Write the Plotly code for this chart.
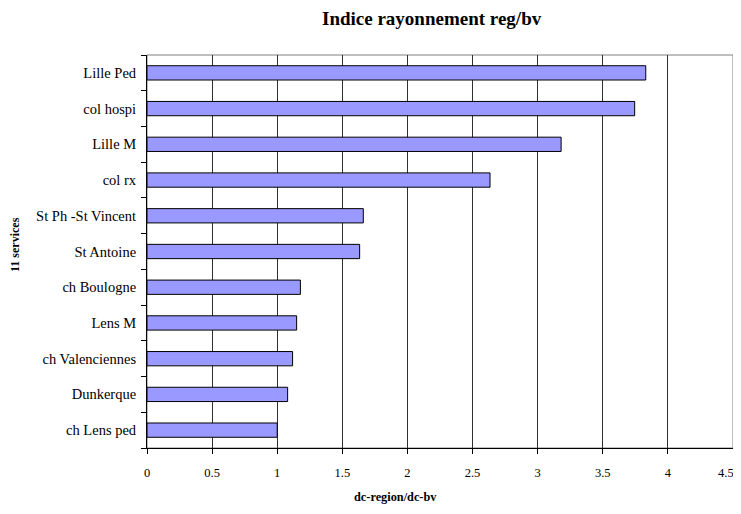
import plotly.graph_objects as go

categories = ["ch Lens ped", "Dunkerque", "ch Valenciennes", "Lens M", "ch Boulogne",
              "St Antoine", "St Ph -St Vincent", "col rx", "Lille M", "col hospi", "Lille Ped"]
values = [1.0, 1.08, 1.118, 1.149, 1.178, 1.633, 1.661, 2.634, 3.18, 3.745, 3.83]
x_ticks = [0, 0.5, 1, 1.5, 2, 2.5, 3, 3.5, 4, 4.5]
x_tick_labels = ["0", "0.5", "1", "1.5", "2", "2.5", "3", "3.5", "4", "4.5"]

font = "Liberation Serif, Times New Roman, serif"

fig = go.Figure(go.Bar(
    x=values, y=categories, orientation="h",
    marker=dict(color="#9999FF", line=dict(color="black", width=1)),
    width=0.4,
))

# the last tick label sits at the page edge; draw it as right-anchored text so it is not clipped
shown_tick_labels = x_tick_labels[:-1] + [""]

# page body has an 8px default margin, so the figure is drawn smaller to avoid scrollbars
fig.update_layout(
    width=733, height=498,
    margin=dict(l=139, r=8, t=47, b=58, autoexpand=False),
    paper_bgcolor="white", plot_bgcolor="white",
    showlegend=False,
    font=dict(family=font, size=12, color="black"),
    shapes=[dict(type="rect", xref="paper", yref="paper", x0=0, x1=1, y0=0, y1=1,
                 line=dict(color="#808080", width=1), layer="below")],
    annotations=[
        dict(text="<b>Indice rayonnement reg/bv</b>", xref="paper", yref="paper",
             x=(432 - 147) / 586, y=1 + (55 - 18) / 393, xanchor="center", yanchor="middle",
             showarrow=False, font=dict(family=font, size=19, color="black")),
        dict(text="<b>11 services</b>", xref="paper", yref="paper",
             x=-(147 - 15) / 586, y=(448 - 245) / 393, xanchor="center", yanchor="middle",
             textangle=-90, showarrow=False, font=dict(family=font, size=12, color="black")),
        dict(text="<b>dc-region/dc-bv</b>", xref="paper", yref="paper",
             x=(395 - 147) / 586, y=-(497 - 448) / 393, xanchor="center", yanchor="middle",
             showarrow=False, font=dict(family=font, size=12.3, color="black")),
        dict(text=x_tick_labels[-1], xref="x", yref="paper",
             x=x_ticks[-1], y=-(473 - 448) / 393, xanchor="right", yanchor="middle",
             xshift=2, showarrow=False, borderpad=0,
             font=dict(family=font, size=12.5, color="black")),
    ],
)
fig.update_xaxes(
    range=[0, 4.5], tickvals=x_ticks, ticktext=shown_tick_labels,
    showgrid=True, gridcolor="#303030", gridwidth=1,
    showline=True, linecolor="black", linewidth=1,
    ticks="outside", ticklen=5, tickcolor="black",
    zeroline=False, automargin=False,
    tickfont=dict(family=font, size=12.5),
    ticklabelstandoff=8,
)
fig.update_yaxes(
    type="category", categoryorder="array", categoryarray=categories,
    showgrid=False, showline=True, linecolor="black", linewidth=1,
    ticks="outside", ticklen=5, tickcolor="black", tickson="boundaries",
    tickfont=dict(family=font, size=14.5),
    automargin=False,
    ticklabelstandoff=7,
)

fig.write_html("out.html")
